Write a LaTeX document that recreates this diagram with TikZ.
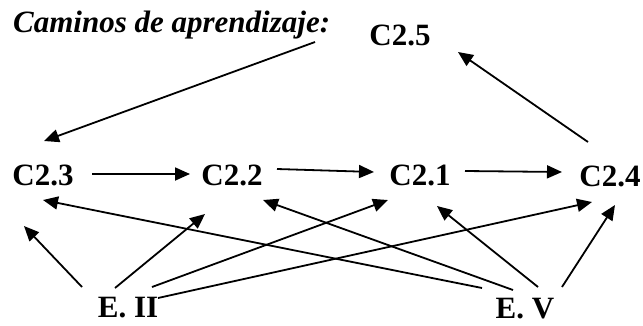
\documentclass[tikz,border=0pt]{standalone}
\usepackage{fontspec}
\setmainfont{Liberation Serif}
\usetikzlibrary{arrows.meta}
\begin{document}
\begin{tikzpicture}[x=1pt,y=-1pt,
  lbl/.style={inner sep=0pt,anchor=base,font=\fontsize{31}{31}\selectfont\bfseries},
  arr/.style={line width=1.8pt,-{Triangle[length=15pt,width=13pt]}}]
\useasboundingbox (0,0) rectangle (643,325);
% heading
\node[inner sep=0pt,anchor=base west,font=\fontsize{31}{31}\selectfont\bfseries\itshape] (title) at (13,32) {Caminos de aprendizaje:};
% competences
\node[lbl] (c25) at (400,45) {C2.5};
\node[lbl] (c23) at (43,185) {C2.3};
\node[lbl] (c22) at (232,185) {C2.2};
\node[lbl] (c21) at (420,185) {C2.1};
\node[lbl] (c24) at (610,186) {C2.4};
% stages
\node[lbl] (e2) at (128,317) {E. II};
\node[lbl] (e5) at (525,318) {E. V};
% top loop
\draw[arr] ([shift={(-85,-3)}]c25.base) -- ([shift={(1,-44)}]c23.base);
\draw[arr] ([shift={(-22,-44)}]c24.base) -- ([shift={(58,7)}]c25.base);
% main chain
\draw[arr] ([shift={(49,-11)}]c23.base) -- ([shift={(-42,-11)}]c22.base);
\draw[arr] ([shift={(45,-16)}]c22.base) -- ([shift={(-46,-13)}]c21.base);
\draw[arr] ([shift={(45,-14)}]c21.base) -- ([shift={(-48,-14)}]c24.base);
% from E. II
\draw[arr] ([shift={(-46,-30)}]e2.base) -- ([shift={(-19,41)}]c23.base);
\draw[arr] ([shift={(-13,-29)}]e2.base) -- ([shift={(-27,29)}]c22.base);
\draw[arr] ([shift={(24,-30)}]e2.base) -- ([shift={(-32,15)}]c21.base);
\draw[arr] ([shift={(30,-19)}]e2.base) -- ([shift={(-18,16)}]c24.base);
% from E. V
\draw[arr] ([shift={(-43,-30)}]e5.base) -- ([shift={(0,15)}]c23.base);
\draw[arr] ([shift={(-12,-28)}]e5.base) -- ([shift={(31,15)}]c22.base);
\draw[arr] ([shift={(13,-31)}]e5.base) -- ([shift={(17,21)}]c21.base);
\draw[arr] ([shift={(37,-31)}]e5.base) -- ([shift={(5,19)}]c24.base);
\end{tikzpicture}
\end{document}
